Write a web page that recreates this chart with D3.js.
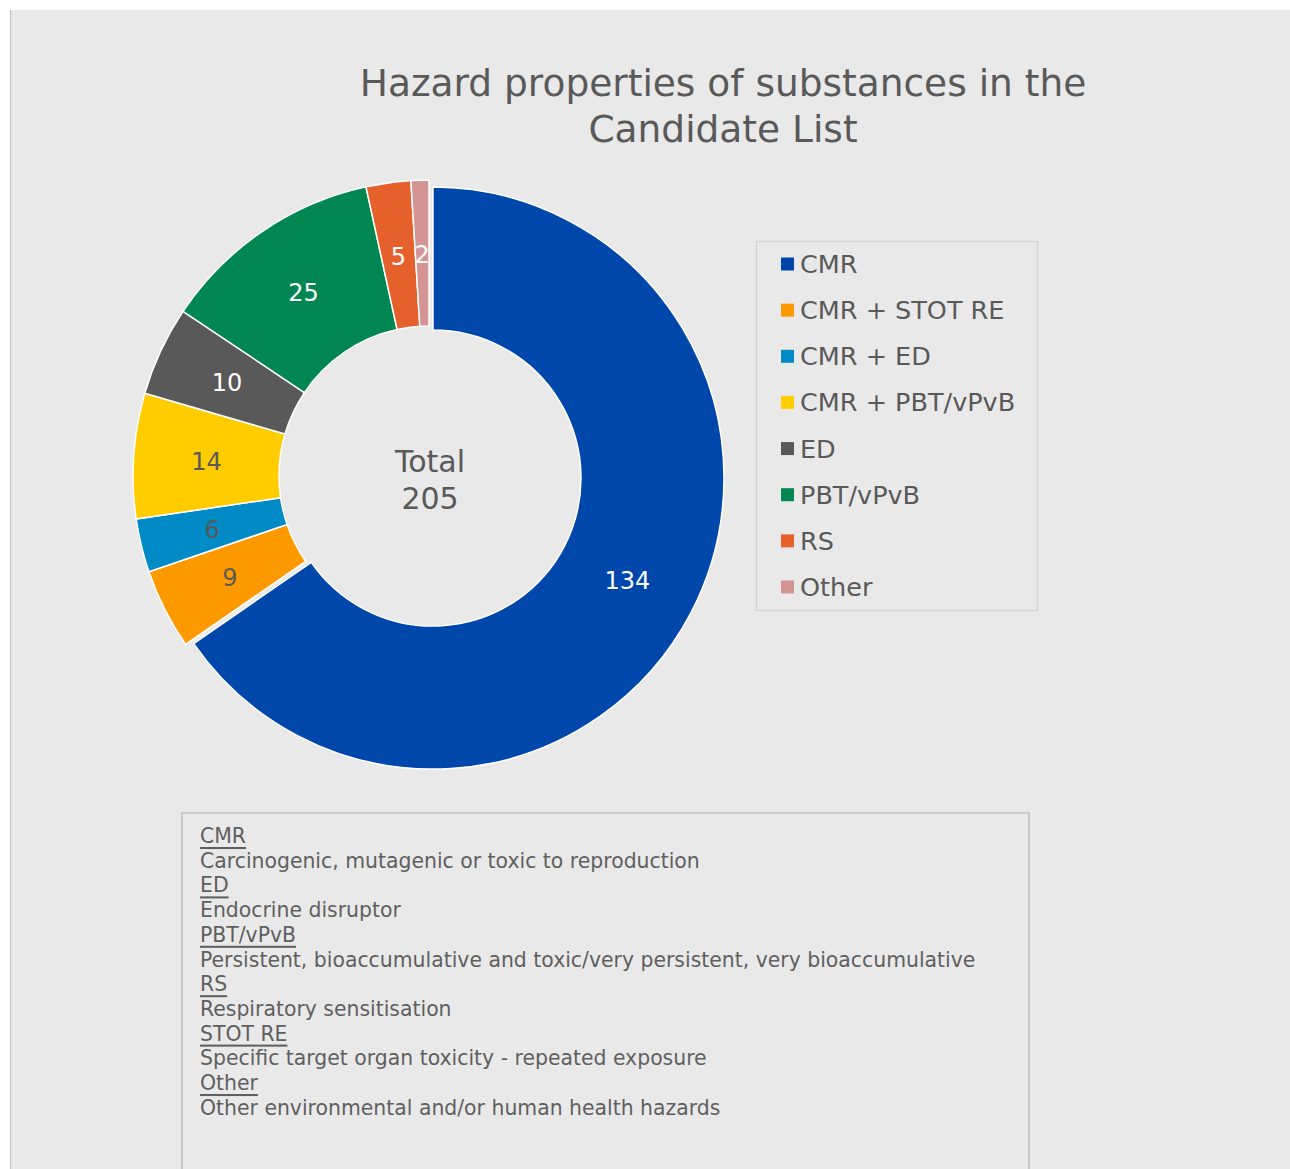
<!DOCTYPE html>
<html>
<head>
<meta charset="utf-8">
<script src="https://cdn.jsdelivr.net/npm/d3@7"></script>
<style>
  html, body { margin: 0; padding: 0; background: #ffffff; }
  svg { display: block; }
  text { font-family: "DejaVu Sans", Verdana, sans-serif; }
</style>
</head>
<body>
<svg id="chart" width="1290" height="1169"></svg>
<script>
// Substances per hazard group
const categories = ["CMR", "CMR + STOT RE", "CMR + ED", "CMR + PBT/vPvB", "ED", "PBT/vPvB", "RS", "Other"];
const counts = [134, 9, 6, 14, 10, 25, 5, 2];
const sliceColors = ["#0047ab", "#ff9900", "#008ac6", "#ffcc00", "#595959", "#008751", "#e5602a", "#d59494"];
const labelColors = ["#ffffff", "#595959", "#595959", "#595959", "#ffffff", "#ffffff", "#ffffff", "#ffffff"];
const explodedSlices = ["CMR"];

const titleLines = ["Hazard properties of substances in the", "Candidate List"];
const totalLabel = "Total";

// Abbreviations explained below the chart
const glossaryTerms = ["CMR", "ED", "PBT/vPvB", "RS", "STOT RE", "Other"];
const glossaryDefinitions = [
  "Carcinogenic, mutagenic or toxic to reproduction",
  "Endocrine disruptor",
  "Persistent, bioaccumulative and toxic/very persistent, very bioaccumulative",
  "Respiratory sensitisation",
  "Specific target organ toxicity - repeated exposure",
  "Other environmental and/or human health hazards"
];

const svg = d3.select("#chart");
const textColor = "#595959";

// Panel background
svg.append("rect").attr("x", 10).attr("y", 10).attr("width", 1280).attr("height", 1159).attr("fill", "#e9e9e9");
svg.append("line").attr("x1", 10.5).attr("x2", 10.5).attr("y1", 10).attr("y2", 1169)
  .attr("stroke", "#c4c4c4").attr("stroke-width", 1.2);

// Title
svg.append("g").selectAll("text").data(titleLines).join("text")
  .attr("x", 723).attr("y", (d, i) => 83 + i * 46)
  .attr("text-anchor", "middle").attr("dominant-baseline", "central")
  .attr("font-size", 37.5).attr("fill", textColor)
  .text(d => d);

// Donut
const cx = 429, cy = 476;
const outerR = 296, innerR = 150;
const explodedOuter = 291, explodedInner = 148, explodeDist = 4.5;
const total = d3.sum(counts);

const data = categories.map((c, i) => ({ name: c, value: counts[i], color: sliceColors[i], label: labelColors[i] }));
const pie = d3.pie().value(d => d.value).sort(null);
const arcs = pie(data);

const arcStd = d3.arc().innerRadius(innerR).outerRadius(outerR);
const arcExp = d3.arc().innerRadius(explodedInner).outerRadius(explodedOuter);

const donut = svg.append("g").attr("transform", `translate(${cx},${cy})`);

function sliceOffset(d) {
  if (!explodedSlices.includes(d.data.name)) return [0, 0];
  const a = (d.startAngle + d.endAngle) / 2;
  return [explodeDist * Math.sin(a), -explodeDist * Math.cos(a)];
}
function sliceArc(d) {
  return explodedSlices.includes(d.data.name) ? arcExp : arcStd;
}

const slices = donut.selectAll("g.slice").data(arcs).join("g")
  .attr("class", "slice")
  .attr("transform", d => { const o = sliceOffset(d); return `translate(${o[0]},${o[1]})`; });

slices.append("path")
  .attr("d", d => sliceArc(d)(d))
  .attr("fill", d => d.data.color)
  .attr("stroke", "#ffffff").attr("stroke-width", 1.5).attr("stroke-linejoin", "round");

slices.append("text")
  .attr("transform", d => { const c = sliceArc(d).centroid(d); return `translate(${c[0]},${c[1] + 1.5})`; })
  .attr("text-anchor", "middle").attr("dominant-baseline", "central")
  .attr("font-size", 24).attr("fill", d => d.data.label)
  .text(d => d.data.value);

// Centre total
donut.append("g").selectAll("text").data([totalLabel, String(total)]).join("text")
  .attr("x", 1).attr("y", (d, i) => -15 + i * 37)
  .attr("text-anchor", "middle").attr("dominant-baseline", "central")
  .attr("font-size", 30).attr("fill", textColor)
  .text(d => d);

// Legend
const legend = svg.append("g");
legend.append("rect").attr("x", 756.5).attr("y", 241.5).attr("width", 281).attr("height", 369)
  .attr("fill", "none").attr("stroke", "#d2d2d2").attr("stroke-width", 1.2);
const legendRow = d3.scalePoint().domain(categories).range([264, 587]);
const items = legend.selectAll("g.item").data(data).join("g").attr("class", "item")
  .attr("transform", d => `translate(781,${legendRow(d.name)})`);
items.append("rect").attr("x", 0).attr("y", -6.5).attr("width", 13).attr("height", 13).attr("fill", d => d.color);
items.append("text").attr("x", 19).attr("y", 0).attr("dominant-baseline", "central")
  .attr("font-size", 25.5).attr("fill", textColor).text(d => d.name);

// Glossary box
const gloss = svg.append("g");
gloss.append("rect").attr("x", 182).attr("y", 813).attr("width", 847).attr("height", 400)
  .attr("fill", "none").attr("stroke", "#c8c8c8").attr("stroke-width", 2);
const glossLines = [];
glossaryTerms.forEach((t, i) => {
  glossLines.push({ text: t, term: true });
  glossLines.push({ text: glossaryDefinitions[i], term: false });
});
gloss.selectAll("text").data(glossLines).join("text")
  .attr("x", 200).attr("y", (d, i) => 836 + i * 24.7)
  .attr("dominant-baseline", "central")
  .attr("font-size", 20.4).attr("fill", "#5f5f5f")
  .attr("text-decoration", d => d.term ? "underline" : null)
  .text(d => d.text);
</script>
</body>
</html>
